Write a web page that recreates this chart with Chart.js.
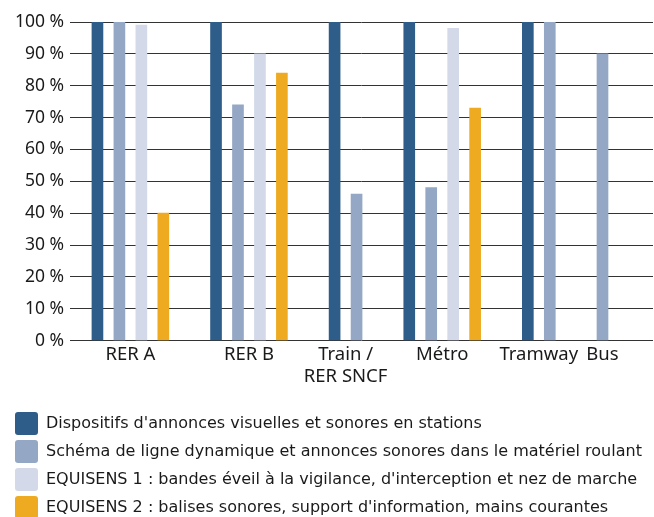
<!DOCTYPE html>
<html lang="fr">
<head>
  <meta charset="UTF-8" />
  <title>Accessibilité</title>
  <script src="https://cdn.jsdelivr.net/npm/chart.js@4"></script>
  <style>
    body { margin: 0; background: #ffffff; overflow: hidden; }
    .wrap { position: relative; width: 654px; height: 529px; }
  </style>
</head>
<body>
  <div class="wrap"><canvas id="chart"></canvas></div>
  <script>
    // categories and values
    const categories = ['RER A', 'RER B', ['Train /', 'RER SNCF'], 'Métro', 'Tramway', 'Bus'];
    const seriesNames = [
      "Dispositifs d'annonces visuelles et sonores en stations",
      "Schéma de ligne dynamique et annonces sonores dans le matériel roulant",
      "EQUISENS 1 : bandes éveil à la vigilance, d'interception et nez de marche",
      "EQUISENS 2 : balises sonores, support d'information, mains courantes"
    ];
    const stations = [100, 100, 100, 100, 100, null];
    const schema = [100, 74, 46, 48, 100, 90];
    const equisens1 = [99, 90, null, 98, null, null];
    const equisens2 = [40, 84, null, 73, null, null];
    const yTicks = [0, 10, 20, 30, 40, 50, 60, 70, 80, 90, 100];

    const series = [stations, schema, equisens1, equisens2];
    const colors = ['#2e5d8a', '#94a7c5', '#d3d9e8', '#eeab22'];

    // bars sit side by side, empty ones take no room, groups separated by a gap
    const GROUP_GAP = 2.4;
    const positions = series.map(() => []);
    const centers = [];
    let slot = -GROUP_GAP;
    categories.forEach((c, ci) => {
      slot += GROUP_GAP - 1;
      const used = [];
      series.forEach((s, si) => {
        if (s[ci] == null) return;
        slot += 1;
        positions[si][ci] = slot;
        used.push(slot);
      });
      centers.push((used[0] + used[used.length - 1]) / 2);
    });

    const datasets = series.map((s, si) => ({
      label: seriesNames[si],
      data: s.map((v, ci) => v == null ? null : { x: positions[si][ci], y: v }).filter(Boolean),
      backgroundColor: colors[si],
      borderWidth: 0,
      barThickness: 11,
      grouped: false
    }));

    new Chart(document.getElementById('chart'), {
      type: 'bar',
      data: { datasets },
      options: {
        responsive: true,
        maintainAspectRatio: false,
        animation: false,
        layout: { padding: { top: 22, left: 10, right: 1, bottom: 0 } },
        scales: {
          x: {
            type: 'linear',
            offset: false,
            min: -1.25,
            max: slot + 2.3,
            grid: { display: false, drawTicks: false },
            border: { display: false },
            afterBuildTicks: scale => { scale.ticks = centers.map(value => ({ value })); },
            afterFit: scale => { scale.height += 16; },
            ticks: {
              autoSkip: false,
              maxRotation: 0,
              padding: 3,
              color: '#1a1a1a',
              font: { family: 'Noto Sans', size: 18.5, lineHeight: 1.2 },
              callback: (v, i) => categories[i]
            }
          },
          y: {
            min: 0,
            max: 100,
            afterBuildTicks: scale => { scale.ticks = yTicks.map(value => ({ value })); },
            afterFit: scale => { scale.width = 60; },
            grid: { color: '#333333', lineWidth: 1, drawTicks: false },
            border: { display: false },
            ticks: {
              padding: 6,
              color: '#1a1a1a',
              font: { family: 'Noto Sans', size: 17.5 },
              callback: v => v + ' %'
            }
          }
        },
        plugins: {
          tooltip: { enabled: false },
          legend: {
            position: 'bottom',
            align: 'start',
            labels: {
              boxWidth: 23,
              boxHeight: 23,
              padding: 5,
              useBorderRadius: true,
              borderRadius: 3,
              color: '#1a1a1a',
              font: { family: 'DejaVu Sans', size: 16 }
            }
          }
        }
      }
    });
  </script>
</body>
</html>
